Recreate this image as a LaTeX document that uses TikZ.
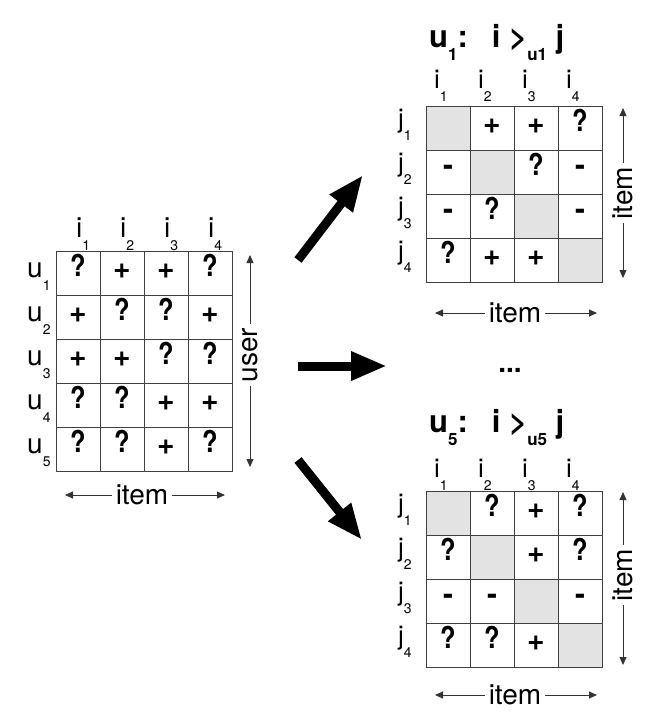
\documentclass[tikz,border=0pt]{standalone}
\usepackage{fontspec}
\setmainfont{TeX Gyre Heros}
\usetikzlibrary{arrows.meta}

\newcommand{\sub}[1]{\raisebox{-13pt}{\fontsize{14}{14}\selectfont #1}}
\newcommand{\tsub}[1]{\raisebox{-13pt}{\fontsize{17}{17}\selectfont\bfseries #1}}
\newcommand{\q}{\scalebox{0.85}[1]{?}}
\newcommand{\p}{\raisebox{-2pt}{+}}

\begin{document}
\begin{tikzpicture}[x=1pt,y=-1pt]
  \tikzstyle{cell}=[draw=black!75,line width=0.8pt,minimum size=44pt,inner sep=0pt,
                    text height=0.74em,text depth=0pt,font=\fontsize{30}{30}\selectfont\bfseries]
  \tikzstyle{diag}=[cell,fill=black!11]
  \tikzstyle{lab}=[inner sep=0pt,anchor=base west,font=\fontsize{26}{26}\selectfont]
  \tikzstyle{labL}=[lab,font=\fontsize{28}{28}\selectfont]
  \tikzstyle{axis}=[inner sep=4pt,font=\fontsize{28}{28}\selectfont]
  \tikzstyle{AxisStyle}=[line width=0.8pt,black!80,-{Triangle[length=8pt,width=7pt]}]
  \tikzstyle{BigArrow}=[line width=9pt,-{Triangle[length=36pt,width=27pt]}]

  \fill[white] (0,0) rectangle (658,726);
  \useasboundingbox (0,0) rectangle (658,726);

  % user x item
  \node[cell] (L11) at (78,273) {\q};
  \node[cell] (L12) at (122,273) {\p};
  \node[cell] (L13) at (166,273) {\p};
  \node[cell] (L14) at (210,273) {\q};
  \node[cell] (L21) at (78,317) {\p};
  \node[cell] (L22) at (122,317) {\q};
  \node[cell] (L23) at (166,317) {\q};
  \node[cell] (L24) at (210,317) {\p};
  \node[cell] (L31) at (78,361) {\p};
  \node[cell] (L32) at (122,361) {\p};
  \node[cell] (L33) at (166,361) {\q};
  \node[cell] (L34) at (210,361) {\q};
  \node[cell] (L41) at (78,405) {\q};
  \node[cell] (L42) at (122,405) {\q};
  \node[cell] (L43) at (166,405) {\p};
  \node[cell] (L44) at (210,405) {\p};
  \node[cell] (L51) at (78,449) {\q};
  \node[cell] (L52) at (122,449) {\q};
  \node[cell] (L53) at (166,449) {\p};
  \node[cell] (L54) at (210,449) {\q};

  \node[labL] (Li1) at (76,237) {i\sub{1}};
  \node[labL] (Li2) at (120,237) {i\sub{2}};
  \node[labL] (Li3) at (164,237) {i\sub{3}};
  \node[labL] (Li4) at (208,237) {i\sub{4}};
  \node[labL] (Lu1) at (27,277) {u\sub{1}};
  \node[labL] (Lu2) at (27,321) {u\sub{2}};
  \node[labL] (Lu3) at (27,365) {u\sub{3}};
  \node[labL] (Lu4) at (27,409) {u\sub{4}};
  \node[labL] (Lu5) at (27,453) {u\sub{5}};

  \node[axis,rotate=90] (Luser) at (250,355) {user};
  \coordinate (LuserT) at (250,255);
  \coordinate (LuserB) at (250,467);
  \draw[AxisStyle] (Luser) -- (LuserT);
  \draw[AxisStyle] (Luser) -- (LuserB);
  \node[axis] (Litem) at (142,495) {item};
  \coordinate (LitemL) at (65,495);
  \coordinate (LitemR) at (225,495);
  \draw[AxisStyle] (Litem) -- (LitemL);
  \draw[AxisStyle] (Litem) -- (LitemR);

  % u1
  \node[lab] (At) at (429,47) {\fontsize{31}{31}\selectfont\bfseries u\tsub{1}:\hspace{24pt}i >\tsub{u1} j};
  \node[diag] (A11) at (448,128) {};
  \node[cell] (A12) at (492,128) {\p};
  \node[cell] (A13) at (536,128) {\p};
  \node[cell] (A14) at (580,128) {\q};
  \node[cell] (A21) at (448,172) {-};
  \node[diag] (A22) at (492,172) {};
  \node[cell] (A23) at (536,172) {\q};
  \node[cell] (A24) at (580,172) {-};
  \node[cell] (A31) at (448,216) {-};
  \node[cell] (A32) at (492,216) {\q};
  \node[diag] (A33) at (536,216) {};
  \node[cell] (A34) at (580,216) {-};
  \node[cell] (A41) at (448,260) {\q};
  \node[cell] (A42) at (492,260) {\p};
  \node[cell] (A43) at (536,260) {\p};
  \node[diag] (A44) at (580,260) {};

  \node[lab] (Ai1) at (434,88) {i\sub{1}};
  \node[lab] (Ai2) at (478,88) {i\sub{2}};
  \node[lab] (Ai3) at (522,88) {i\sub{3}};
  \node[lab] (Ai4) at (566,88) {i\sub{4}};
  \node[lab] (Aj1) at (398,127) {j\sub{1}};
  \node[lab] (Aj2) at (398,171) {j\sub{2}};
  \node[lab] (Aj3) at (398,215) {j\sub{3}};
  \node[lab] (Aj4) at (398,259) {j\sub{4}};

  \node[axis,rotate=90] (Aitem) at (623,193) {item};
  \coordinate (AitemT) at (623,108);
  \coordinate (AitemB) at (623,278);
  \draw[AxisStyle] (Aitem) -- (AitemT);
  \draw[AxisStyle] (Aitem) -- (AitemB);
  \node[axis] (Bitem) at (515,313) {item};
  \coordinate (BitemL) at (435,313);
  \coordinate (BitemR) at (597,313);
  \draw[AxisStyle] (Bitem) -- (BitemL);
  \draw[AxisStyle] (Bitem) -- (BitemR);

  \node[font=\fontsize{28}{28}\selectfont\bfseries] (dots) at (510,370) {...};

  % u5
  \node[lab] (Ct) at (429,432) {\fontsize{31}{31}\selectfont\bfseries u\tsub{5}:\hspace{24pt}i >\tsub{u5} j};
  \node[diag] (C11) at (448,513) {};
  \node[cell] (C12) at (492,513) {\q};
  \node[cell] (C13) at (536,513) {\p};
  \node[cell] (C14) at (580,513) {\q};
  \node[cell] (C21) at (448,557) {\q};
  \node[diag] (C22) at (492,557) {};
  \node[cell] (C23) at (536,557) {\p};
  \node[cell] (C24) at (580,557) {\q};
  \node[cell] (C31) at (448,601) {-};
  \node[cell] (C32) at (492,601) {-};
  \node[diag] (C33) at (536,601) {};
  \node[cell] (C34) at (580,601) {-};
  \node[cell] (C41) at (448,645) {\q};
  \node[cell] (C42) at (492,645) {\q};
  \node[cell] (C43) at (536,645) {\p};
  \node[diag] (C44) at (580,645) {};

  \node[lab] (Ci1) at (434,477) {i\sub{1}};
  \node[lab] (Ci2) at (478,477) {i\sub{2}};
  \node[lab] (Ci3) at (522,477) {i\sub{3}};
  \node[lab] (Ci4) at (566,477) {i\sub{4}};
  \node[lab] (Cj1) at (398,512) {j\sub{1}};
  \node[lab] (Cj2) at (398,556) {j\sub{2}};
  \node[lab] (Cj3) at (398,600) {j\sub{3}};
  \node[lab] (Cj4) at (398,644) {j\sub{4}};

  \node[axis,rotate=90] (Citem) at (623,575) {item};
  \coordinate (CitemT) at (623,492);
  \coordinate (CitemB) at (623,665);
  \draw[AxisStyle] (Citem) -- (CitemT);
  \draw[AxisStyle] (Citem) -- (CitemB);
  \node[axis] (Ditem) at (515,695) {item};
  \coordinate (DitemL) at (435,695);
  \coordinate (DitemR) at (597,695);
  \draw[AxisStyle] (Ditem) -- (DitemL);
  \draw[AxisStyle] (Ditem) -- (DitemR);

  % arrows
  \coordinate (up0) at (298,260);
  \coordinate (up1) at (363,175);
  \coordinate (mid0) at (298,366);
  \coordinate (mid1) at (387,366);
  \coordinate (dn0) at (298,460);
  \coordinate (dn1) at (362,540);
  \draw[BigArrow] (up0) -- (up1);
  \draw[BigArrow] (mid0) -- (mid1);
  \draw[BigArrow] (dn0) -- (dn1);

\end{tikzpicture}
\end{document}
